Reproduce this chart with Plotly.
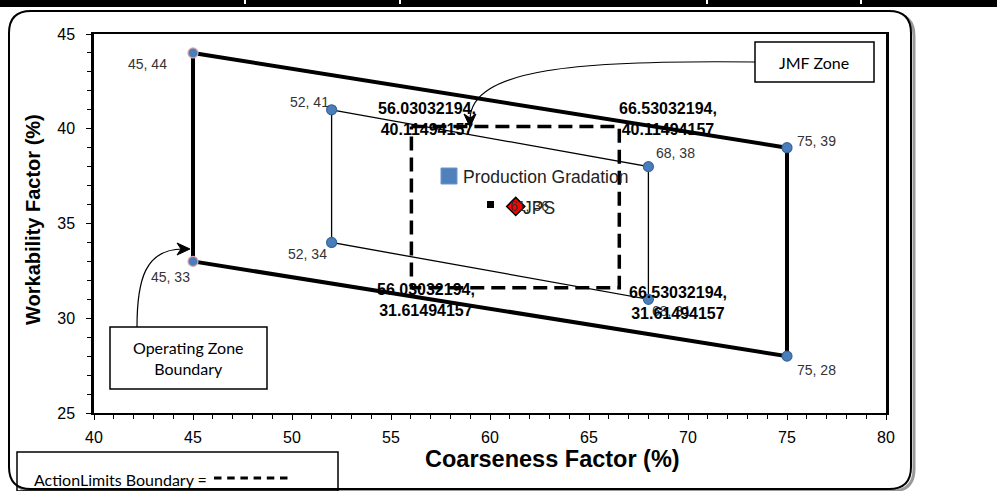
import plotly.graph_objects as go

# ---------------- data ----------------
op_x = [45, 75, 75, 45, 45]
op_y = [44, 39, 28, 33, 44]
jmf_x = [52, 68, 68, 52, 52]
jmf_y = [41, 38, 31, 34, 41]
al_x = [56.03032194, 66.53032194, 66.53032194, 56.03032194, 56.03032194]
al_y = [40.11494157, 40.11494157, 31.61494157, 31.61494157, 40.11494157]
jps_x = [61.3]
jps_y = [35.9]
x_ticks = [40, 45, 50, 55, 60, 65, 70, 75, 80]
y_ticks = [25, 30, 35, 40, 45]

W, H = 997, 491
ML, MR, MT, MB = 94, 111, 34, 78
PW, PH = W - ML - MR, H - MT - MB


def px(xp):
    return (xp - ML) / PW


def py(yp):
    return (H - MB - yp) / PH


def path(cmds):
    out = []
    for c in cmds:
        if isinstance(c, str):
            out.append(c)
        else:
            out.append(f"{px(c[0]):.5f},{py(c[1]):.5f}")
    return " ".join(out)


fig = go.Figure()

MC = "#4a7ebb"
MLC = "#35659a"

# action limits dashed rectangle
fig.add_trace(go.Scatter(x=al_x, y=al_y, mode="lines",
                         line=dict(color="black", width=3.5, dash="14px,7px"),
                         hoverinfo="skip"))
# JMF zone
fig.add_trace(go.Scatter(x=jmf_x, y=jmf_y, mode="lines",
                         line=dict(color="black", width=1.3), hoverinfo="skip"))
# operating zone
fig.add_trace(go.Scatter(x=op_x, y=op_y, mode="lines",
                         line=dict(color="black", width=4), hoverinfo="skip"))
# markers
fig.add_trace(go.Scatter(x=jmf_x[:4], y=jmf_y[:4], mode="markers",
                         marker=dict(size=10, color=MC, line=dict(color=MLC, width=1.2))))
fig.add_trace(go.Scatter(x=op_x[:4], y=op_y[:4], mode="markers",
                         marker=dict(size=10, color=MC,
                                     line=dict(color=["#e0a8a8", MLC, MLC, "#e0a8a8"], width=1.2))))
# JPS point
fig.add_trace(go.Scatter(x=jps_x, y=jps_y, mode="markers",
                         marker=dict(symbol="diamond", size=14, color="#ff0000",
                                     line=dict(color="black", width=1.5))))

ann = []
LBL = dict(family="Liberation Sans, Arial", size=14, color="#333333")
# data labels: (x, y, xshift, yshift)
lab_pos = [
    (45, 44, -46, -11), (75, 39, 29, 7), (75, 28, 29, -14), (45, 33, -23, -16),
    (52, 41, -22, 8), (68, 38, 27, 14), (68, 31, 23, -12), (52, 34, -24, -12),
]
for x, y, dx, dy in lab_pos:
    ann.append(dict(x=x, y=y, xref="x", yref="y", text=f"{x}, {y}", showarrow=False,
                    xanchor="center", yanchor="middle",
                    xshift=dx, yshift=dy, font=LBL))

# bold action-limit labels
al_shift = [(16, 8), (49, 8), (59, -15), (15, -12)]
for i in range(4):
    ann.append(dict(x=al_x[i], y=al_y[i], xref="x", yref="y",
                    text=f"<b>{al_x[i]:.8f},<br>{al_y[i]:.8f}</b>", showarrow=False,
                    xanchor="center", yanchor="middle",
                    xshift=al_shift[i][0], yshift=al_shift[i][1],
                    font=dict(family="Liberation Sans, Arial", size=16, color="black")))

# JPS point label (overlapped)
ann.append(dict(x=jps_x[0], y=jps_y[0], xref="x", yref="y", text=f"{round(jps_x[0])}, {round(jps_y[0])}",
                showarrow=False, xanchor="left", yanchor="middle", xshift=-8, yshift=0, font=LBL))

# legend-like texts
LEGF = dict(family="Liberation Sans, Arial", size=17.5, color="#222222")
ann.append(dict(x=px(461), y=py(177), xref="paper", yref="paper", text="Production Gradation",
                showarrow=False, xanchor="left", yanchor="middle", font=LEGF))
ann.append(dict(x=px(521), y=py(208), xref="paper", yref="paper", text="JPS",
                showarrow=False, xanchor="left", yanchor="middle", font=LEGF))

# axis titles
ann.append(dict(x=px(552), y=py(459), xref="paper", yref="paper", text="<b>Coarseness Factor (%)</b>",
                showarrow=False, xanchor="center", yanchor="middle",
                font=dict(family="Liberation Sans, Arial", size=23.5, color="black")))
ann.append(dict(x=px(33), y=py(220), xref="paper", yref="paper", text="<b>Workability Factor (%)</b>",
                showarrow=False, textangle=-90, xanchor="center", yanchor="middle",
                font=dict(family="Liberation Sans, Arial", size=20, color="black")))

# callout texts
BOXF = dict(family="Lato, Carlito, Calibri", size=16, color="black")
ann.append(dict(x=px(814), y=py(62), xref="paper", yref="paper", text="JMF Zone",
                showarrow=False, xanchor="center", yanchor="middle", font=BOXF))
ann.append(dict(x=px(188), y=py(358), xref="paper", yref="paper", text="Operating Zone<br>Boundary",
                showarrow=False, xanchor="center", yanchor="middle", font=BOXF))
ann.append(dict(x=px(32), y=py(479), xref="paper", yref="paper", text="ActionLimits Boundary =",
                showarrow=False, xanchor="left", yanchor="middle", font=BOXF))

shapes = []
# top table strip
shapes.append(dict(type="rect", xref="paper", yref="paper", x0=px(-2), x1=px(999), y0=py(-2), y1=py(7),
                   fillcolor="black", line=dict(width=0), layer="below"))
for sx in [245, 400, 707, 861]:
    shapes.append(dict(type="line", xref="paper", yref="paper", x0=px(sx), x1=px(sx), y0=py(-2), y1=py(4),
                       line=dict(color="white", width=2), layer="below"))

# outer rounded frame with shadow
def rrect(x0, y0, x1, y1, r):
    return path(["M", (x0 + r, y0), "L", (x1 - r, y0), "Q", (x1, y0), (x1, y0 + r),
                 "L", (x1, y1 - r), "Q", (x1, y1), (x1 - r, y1), "L", (x0 + r, y1),
                 "Q", (x0, y1), (x0, y1 - r), "L", (x0, y0 + r), "Q", (x0, y0), (x0 + r, y0), "Z"])

shapes.append(dict(type="path", xref="paper", yref="paper", path=rrect(12, 14, 914, 491, 22),
                   line=dict(color="#9a9a9a", width=3), layer="below"))
shapes.append(dict(type="path", xref="paper", yref="paper", path=rrect(9, 11, 911, 489, 22),
                   line=dict(color="black", width=2), fillcolor="white", layer="below"))

# callout boxes
for (x0, y0, x1, y1) in [(755, 42, 874, 82), (110, 327, 267, 389), (17, 452, 338, 491)]:
    shapes.append(dict(type="rect", xref="paper", yref="paper", x0=px(x0), x1=px(x1), y0=py(y1), y1=py(y0),
                       line=dict(color="black", width=1.5), fillcolor="rgba(0,0,0,0)", layer="above"))

# dashes after ActionLimits text (six short strokes)
for k in range(6):
    d0 = 214 + k * 13.2
    shapes.append(dict(type="line", xref="paper", yref="paper", x0=px(d0), x1=px(d0 + 7.5),
                       y0=py(478), y1=py(478), line=dict(color="black", width=3)))

# connector curves + arrowheads
shapes.append(dict(type="path", xref="paper", yref="paper",
                   path=path(["M", (755, 62), "C", (580, 60), (470, 68), (470, 120)]),
                   line=dict(color="black", width=1.2)))
shapes.append(dict(type="path", xref="paper", yref="paper",
                   path=path(["M", (470, 127), "L", (464, 114), "L", (470, 118), "L", (476, 114), "Z"]),
                   line=dict(color="black", width=1), fillcolor="black"))
shapes.append(dict(type="path", xref="paper", yref="paper",
                   path=path(["M", (137, 327), "C", (137, 280), (145, 249), (183, 249)]),
                   line=dict(color="black", width=1.2)))
shapes.append(dict(type="path", xref="paper", yref="paper",
                   path=path(["M", (190, 249), "L", (177, 243), "L", (181, 249), "L", (177, 255), "Z"]),
                   line=dict(color="black", width=1), fillcolor="black"))

# legend swatches
shapes.append(dict(type="rect", xref="paper", yref="paper", x0=px(441), x1=px(457), y0=py(184), y1=py(168),
                   fillcolor="#4f81bd", line=dict(color="#6d95c8", width=1)))
shapes.append(dict(type="rect", xref="paper", yref="paper", x0=px(487), x1=px(494), y0=py(208), y1=py(201),
                   fillcolor="black", line=dict(width=0)))

TICKF = dict(family="Liberation Sans, Arial", size=16, color="black")
fig.update_layout(
    width=W, height=H, autosize=False,
    margin=dict(l=ML, r=MR, t=MT, b=MB, pad=0),
    paper_bgcolor="white", plot_bgcolor="white",
    showlegend=False,
    annotations=ann, shapes=shapes,
    xaxis=dict(range=[40, 80], tickvals=x_ticks, ticktext=[str(v) for v in x_ticks],
               showgrid=False, zeroline=False, showline=True, linecolor="black", linewidth=2,
               mirror=True, ticks="outside", ticklen=5, tickwidth=1.3, tickcolor="black",
               minor=dict(dtick=1, ticks="outside", ticklen=4, tickwidth=1, tickcolor="black", showgrid=False),
               tickfont=TICKF, ticklabelstandoff=4),
    yaxis=dict(range=[25, 45], tickvals=y_ticks, ticktext=[str(v) for v in y_ticks],
               showgrid=False, zeroline=False, showline=True, linecolor="black", linewidth=2.5,
               mirror=True, ticks="outside", ticklen=5, tickwidth=1.3, tickcolor="black",
               minor=dict(dtick=1, ticks="outside", ticklen=4, tickwidth=1, tickcolor="black", showgrid=False),
               tickfont=TICKF, ticklabelstandoff=8),
)

fig.write_html("out.html", config={"displayModeBar": False},
               post_script="document.body.style.margin='0px';document.body.style.overflow='hidden';")
